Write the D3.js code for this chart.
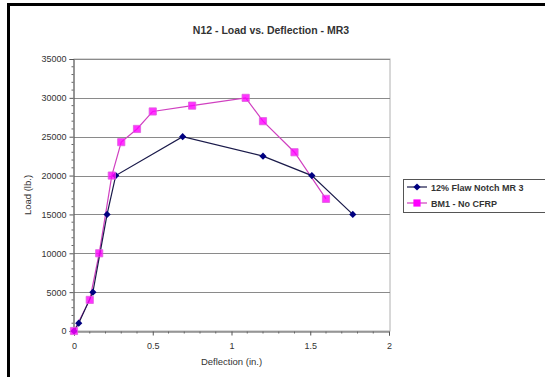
<!DOCTYPE html>
<html>
<head>
<meta charset="utf-8">
<script src="https://cdn.jsdelivr.net/npm/d3@7"></script>
<style>
  html, body { margin: 0; padding: 0; background: #fff; overflow: hidden; }
  svg { display: block; font-family: "Liberation Sans", Arial, sans-serif; }
</style>
</head>
<body>
<svg id="chart" width="545" height="377"></svg>
<script>
// Load vs. deflection test data
const flawDeflection = [0, 0.03, 0.12, 0.21, 0.265, 0.69, 1.2, 1.51, 1.77];
const flawLoad       = [0, 1000, 5000, 15000, 20000, 25000, 22500, 20000, 15000];
const bm1Deflection  = [0, 0.1, 0.16, 0.24, 0.3, 0.4, 0.5, 0.75, 1.09, 1.2, 1.4, 1.6];
const bm1Load        = [0, 4000, 10000, 20000, 24300, 26000, 28250, 29000, 30000, 27000, 23000, 17000];

const seriesNames = ["12% Flaw Notch MR 3", "BM1 - No CFRP"];
const xTicks = [0, 0.5, 1, 1.5, 2];
const xTickLabels = ["0", "0.5", "1", "1.5", "2"];
const yTicks = [0, 5000, 10000, 15000, 20000, 25000, 30000, 35000];

const titleText = "N12 - Load vs. Deflection - MR3";
const xTitle = "Deflection (in.)";
const yTitle = "Load (lb.)";

const svg = d3.select("#chart");

// outer chart frame
svg.append("rect")
  .attr("x", 8.5).attr("y", 4.5)
  .attr("width", 620).attr("height", 420)
  .attr("fill", "#fff").attr("stroke", "#000").attr("stroke-width", 3);

const x = d3.scaleLinear().domain([0, 2]).range([74, 389]);
const y = d3.scaleLinear().domain([0, 35000]).range([331, 59]);

// plot area
svg.append("rect")
  .attr("x", x(0)).attr("y", y(35000))
  .attr("width", x(2) - x(0) + 1).attr("height", y(0) - y(35000))
  .attr("fill", "#fff").attr("stroke", "#b0b0b0").attr("stroke-width", 1);

// horizontal gridlines
svg.append("g").selectAll("line")
  .data(yTicks.filter(d => d > 0))
  .join("line")
  .attr("x1", x(0)).attr("x2", x(2) + 1)
  .attr("y1", d => Math.round(y(d)) + 0.5).attr("y2", d => Math.round(y(d)) + 0.5)
  .attr("stroke", "#8a8a8a").attr("stroke-width", 1);

// y axis
const yAxis = d3.axisLeft(y).tickValues(yTicks).tickFormat(d3.format("d"))
  .tickSize(4).tickPadding(3);
const gy = svg.append("g").attr("transform", `translate(${x(0) - 0.5},0)`).call(yAxis);
gy.select(".domain").attr("stroke", "#555");
gy.selectAll(".tick line").attr("stroke", "#555");
gy.selectAll(".tick text").attr("font-size", 9).attr("fill", "#333");
// minor y ticks
gy.append("g").selectAll("line")
  .data(d3.range(0, 35001, 1000).filter(d => d % 5000 !== 0))
  .join("line")
  .attr("x1", -2).attr("x2", 0)
  .attr("y1", d => y(d)).attr("y2", d => y(d))
  .attr("stroke", "#666");

// x axis
const xAxis = d3.axisBottom(x).tickValues(xTicks)
  .tickFormat((d, i) => xTickLabels[i]).tickSize(4).tickPadding(7);
const gx = svg.append("g").attr("transform", `translate(0,${y(0) + 0.5})`).call(xAxis);
gx.select(".domain").attr("stroke", "#555");
gx.selectAll(".tick line").attr("stroke", "#555");
gx.selectAll(".tick text").attr("font-size", 9).attr("fill", "#333");
// minor x ticks
gx.append("g").selectAll("line")
  .data(d3.range(1, 20).filter(d => d % 5 !== 0).map(d => d / 10))
  .join("line")
  .attr("x1", d => x(d)).attr("x2", d => x(d))
  .attr("y1", 0).attr("y2", 2)
  .attr("stroke", "#666");

// titles
svg.append("text")
  .attr("x", 271).attr("y", 34)
  .attr("text-anchor", "middle").attr("font-size", 10.5).attr("font-weight", "bold")
  .attr("fill", "#333").text(titleText);

svg.append("text")
  .attr("x", (x(0) + x(2)) / 2).attr("y", 365)
  .attr("text-anchor", "middle").attr("font-size", 9.5).attr("fill", "#333")
  .text(xTitle);

svg.append("text")
  .attr("transform", `translate(31,${(y(0) + y(35000)) / 2}) rotate(-90)`)
  .attr("text-anchor", "middle").attr("font-size", 9.5).attr("fill", "#333")
  .text(yTitle);

// series
const flawData = flawDeflection.map((d, i) => [d, flawLoad[i]]);
const bm1Data = bm1Deflection.map((d, i) => [d, bm1Load[i]]);
const line = d3.line().x(d => x(d[0])).y(d => y(d[1]));

const navy = "#000080";
const magenta = "#ff00ff";
// rotated square for the diamond marker
const diamond = d3.symbol().type(d3.symbolSquare).size(26);
const square = d3.symbol().type(d3.symbolSquare).size(52);

svg.append("path").datum(bm1Data)
  .attr("d", line).attr("fill", "none")
  .attr("stroke", "#d040c0").attr("stroke-width", 1.2);
svg.append("path").datum(flawData)
  .attr("d", line).attr("fill", "none")
  .attr("stroke", "#1a1a4a").attr("stroke-width", 1.2);

svg.append("g").selectAll("path")
  .data(flawData).join("path")
  .attr("transform", d => `translate(${x(d[0])},${y(d[1])}) rotate(45)`)
  .attr("d", diamond).attr("fill", navy);

svg.append("g").selectAll("path")
  .data(bm1Data).join("path")
  .attr("transform", d => `translate(${x(d[0])},${y(d[1])})`)
  .attr("d", square).attr("fill", magenta).attr("fill-opacity", 0.8)
  .attr("stroke", "#e060e0").attr("stroke-width", 0.8);

// legend
const lg = svg.append("g");
lg.append("rect")
  .attr("x", 403.5).attr("y", 179.5).attr("width", 200).attr("height", 33)
  .attr("fill", "#fff").attr("stroke", "#555").attr("stroke-width", 1);
const legendRows = [
  { name: seriesNames[0], color: "#1a1a4a", fill: navy, sym: diamond, rot: 45, yy: 187 },
  { name: seriesNames[1], color: "#d040c0", fill: magenta, sym: square, rot: 0, yy: 203 }
];
legendRows.forEach(r => {
  lg.append("line").attr("x1", 407).attr("x2", 427)
    .attr("y1", r.yy).attr("y2", r.yy).attr("stroke", r.color).attr("stroke-width", 1.2);
  lg.append("path").attr("transform", `translate(417,${r.yy}) rotate(${r.rot})`)
    .attr("d", r.sym).attr("fill", r.fill);
  lg.append("text").attr("x", 431).attr("y", r.yy + 3.5)
    .attr("font-size", 9).attr("font-weight", "bold").attr("fill", "#333")
    .text(r.name);
});
</script>
</body>
</html>
